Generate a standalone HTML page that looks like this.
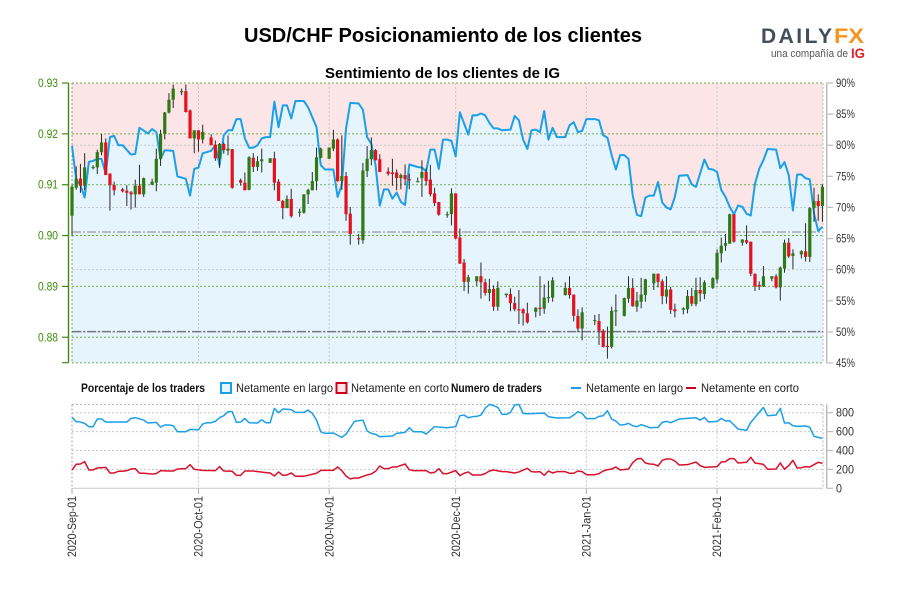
<!DOCTYPE html>
<html lang="es">
<head>
<meta charset="utf-8">
<title>USD/CHF Posicionamiento de los clientes</title>
<style>
html,body{margin:0;padding:0;background:#fff}
svg{display:block}
text{font-family:"Liberation Sans",sans-serif}
</style>
</head>
<body>
<svg id="chart" xmlns="http://www.w3.org/2000/svg" width="900" height="600" viewBox="0 0 900 600">
<rect width="900" height="600" fill="#fff"/>
<text x="244" y="42" font-size="20" font-weight="700" fill="#000" textLength="398" lengthAdjust="spacingAndGlyphs">USD/CHF Posicionamiento de los clientes</text>
<text x="325" y="78" font-size="15" font-weight="700" fill="#000" textLength="235" lengthAdjust="spacingAndGlyphs">Sentimiento de los clientes de IG</text>
<g>
<text x="761" y="43" font-size="21" font-weight="700" fill="#434e5b" textLength="71" lengthAdjust="spacing">DAILY</text>
<text x="834" y="43" font-size="21" font-weight="700" fill="#f7931e" textLength="30" lengthAdjust="spacingAndGlyphs">FX</text>
<text x="771" y="57" font-size="11" fill="#555" textLength="77" lengthAdjust="spacingAndGlyphs">una compañía de</text>
<text x="851" y="58" font-size="14" font-weight="700" fill="#e0202a" textLength="14" lengthAdjust="spacingAndGlyphs">IG</text>
</g>
<g id="top-panel"></g>
<g id="bottom-panel"></g>
<g>
<text x="81" y="392" font-size="12" font-weight="700" fill="#111" textLength="124" lengthAdjust="spacingAndGlyphs">Porcentaje de los traders</text>
<rect x="221" y="383" width="10" height="10" fill="#e6f4fd" stroke="#1b9fe6" stroke-width="2"/>
<text x="236" y="392" font-size="12" fill="#222" textLength="97" lengthAdjust="spacingAndGlyphs">Netamente en largo</text>
<rect x="336.500" y="383" width="10" height="10" fill="#fbe5e6" stroke="#d0021b" stroke-width="2"/>
<text x="351" y="392" font-size="12" fill="#222" textLength="98" lengthAdjust="spacingAndGlyphs">Netamente en corto</text>
<text x="451" y="392" font-size="12" font-weight="700" fill="#111" textLength="91" lengthAdjust="spacingAndGlyphs">Numero de traders</text>
<line x1="571" x2="581" y1="388" y2="388" stroke="#1b9fe6" stroke-width="2"/>
<text x="586" y="392" font-size="12" fill="#222" textLength="97" lengthAdjust="spacingAndGlyphs">Netamente en largo</text>
<line x1="686" x2="696" y1="388" y2="388" stroke="#d0021b" stroke-width="2"/>
<text x="701" y="392" font-size="12" fill="#222" textLength="98" lengthAdjust="spacingAndGlyphs">Netamente en corto</text>
</g>
</svg>
<script>
/* Axis labels and reference values */
const priceTicks = [0.93, 0.92, 0.91, 0.90, 0.89, 0.88];
const percentTicks = [90, 85, 80, 75, 70, 65, 60, 55, 50, 45];
const percentGrid = [80, 70, 60, 50];
const traderTicks = [800, 600, 400, 200, 0];
const dateLabels = ["2020-Sep-01", "2020-Oct-01", "2020-Nov-01", "2020-Dec-01", "2021-Jan-01", "2021-Feb-01"];
const dateLabelDays = [0, 30, 61, 91, 122, 153];
const referencePrices = [9007, 8811];

/* Candles: day offset from 2020-09-01 and prices in 1/10000 */
const candleDays = [0,1,2,3,5,6,7,8,9,10, 12,13,14,15,16,17,19,20,21,22, 23,24,26,27,28,29,30,31,33,34, 35,36,37,38,40,41,42,43,44,45,
 47,48,49,50,51,52,54,55,56,57, 58,59,61,62,63,64,65,66,68,69, 70,71,72,73,75,76,77,78,79,80, 82,83,84,85,86,87,89,90,91,92,
 93,94,96,97,98,99,100,101,103,104, 105,106,107,108,110,111,112,113,114,117, 118,119,120,121,124,125,126,127,128,129, 131,132,133,134,135,136,138,139,140,141,
 142,143,145,146,147,148,149,150,152,153, 154,155,156,157,159,160,161,162,163,164, 166,167,168,169,170,171,173,174,175,176, 177,178];
const candleOpen = [9039,9094,9112,9098,9133,9134,9164,9183,9122,9099, 9091,9088,9085,9081,9098,9081,9100,9104,9151,9200, 9242,9267,9282,9284,9246,9191,9207,9189,9193,9179, 9151,9180,9167,9170,9109,9104,9090,9153,9135,9146,
 9143,9152,9106,9068,9054,9072,9045,9045,9081,9089, 9107,9153,9151,9171,9189,9107,9117,9043,8995,8991, 9127,9150,9168,9150,9126,9124,9124,9113,9119,9111, 9106,9113,9125,9110,9083,9066,9040,9042,9083,8996,
 8947,8909,8910,8920,8908,8887,8895,8860,8883,8885, 8867,8855,8855,8847,8850,8858,8856,8878,8878,8883, 8897,8884,8842,8817,8832,8832,8813,8783,8781,8851, 8842,8876,8897,8860,8870,8883,8906,8925,8910,8880,
 8894,8855,8854,8855,8881,8865,8893,8885,8897,8914, 8965,8980,8984,9042,8986,8991,8988,8925,8903,8900, 8915,8920,8898,8935,8986,8960,8963,8969,8958,9054, 9068,9058];
const candleHigh = [9100,9136,9141,9162,9138,9169,9200,9191,9122,9106, 9094,9099,9088,9110,9139,9114,9112,9171,9208,9243, 9280,9297,9289,9297,9248,9207,9207,9218,9199,9187, 9182,9183,9197,9170,9112,9124,9156,9162,9156,9171,
 9152,9165,9111,9070,9079,9092,9053,9081,9092,9125, 9173,9173,9173,9208,9191,9197,9125,9056,9003,9143, 9176,9193,9170,9160,9134,9151,9130,9122,9140,9122, 9114,9148,9132,9139,9094,9066,9047,9093,9083,9014,
 8954,8923,8920,8947,8915,8915,8902,8910,8886,8896, 8880,8893,8857,8868,8859,8920,8904,8911,8918,8908, 8920,8884,8855,8859,8844,8846,8816,8821,8860,8884, 8878,8920,8916,8889,8917,8915,8925,8925,8914,8920,
 8899,8866,8859,8893,8897,8917,8918,8912,8918,8973, 8996,9003,9043,9042,8993,9020,8988,8925,8910,8940, 8920,8924,8939,8992,8995,8973,8971,9024,9056,9094, 9081,9101];
const candleLow = [9000,9090,9084,9089,9130,9121,9158,9119,9049,9079, 9085,9058,9051,9055,9081,9076,9099,9087,9137,9189, 9240,9251,9276,9242,9191,9162,9165,9181,9177,9147, 9133,9161,9158,9092,9098,9089,9089,9125,9127,9124,
 9143,9089,9068,9032,9054,9035,9037,9043,9062,9089, 9089,9152,9151,9166,9106,9090,9029,8982,8982,8984, 9115,9138,9148,9125,9118,9098,9089,9091,9099,9091, 9106,9076,9098,9077,9058,9039,9035,9020,8993,8944,
 8891,8886,8901,8876,8882,8871,8852,8852,8878,8851, 8851,8826,8823,8827,8839,8842,8846,8868,8870,8882, 8876,8831,8810,8794,8824,8785,8780,8758,8778,8822, 8841,8868,8860,8850,8857,8870,8893,8898,8865,8866,
 8846,8839,8845,8847,8861,8861,8870,8875,8895,8906, 8947,8970,8984,8986,8980,8983,8920,8891,8893,8899, 8910,8896,8872,8927,8956,8934,8955,8949,8948,9027, 9029,9027];
const candleClose = [9096,9112,9098,9134,9135,9164,9183,9119,9099,9089, 9087,9084,9081,9098,9081,9113,9106,9151,9200,9242, 9267,9289,9284,9243,9191,9207,9189,9204,9178,9152, 9180,9168,9171,9094,9104,9089,9154,9135,9146,9150,
 9152,9104,9068,9054,9072,9038,9047,9081,9090,9107, 9154,9171,9173,9189,9107,9117,9042,9003,8993,9128, 9151,9168,9148,9125,9121,9121,9113,9119,9111,9109, 9107,9125,9107,9081,9064,9041,9042,9083,8994,8945,
 8909,8918,8920,8908,8887,8895,8860,8897,8886,8867, 8855,8854,8847,8829,8858,8856,8878,8879,8912,8897, 8883,8842,8817,8849,8834,8813,8781,8781,8852,8853, 8877,8897,8861,8872,8884,8914,8925,8909,8881,8894,
 8854,8851,8857,8881,8866,8893,8886,8908,8916,8966, 8980,8985,9042,8988,8992,8986,8925,8900,8900,8920, 8920,8898,8937,8986,8959,8965,8969,8958,9054,9068, 9058,9096];

/* Percent of traders net long */
const sentimentDays = [0,1,2,3,4,5,6,7,8,9,10,11,12,14,15,16,18,19,20,21,22,24,25,27,28,29,30,31,33,34,35,36,37,38,39,40,41,42,43,44,45,46,47,48,49,50,51,52,53,55,56,58,
 59,60,62,63,64,65,66,68,69,70,71,72,73,74,75,76,77,78,79,80,82,83,84,85,86,87,88,89,90,91,92,94,95,96,97,98,99,100,101,102,104,105,106,107,108,109,110,111,112,113,114,115,117,118,119,120,
 121,122,124,125,126,127,128,129,130,131,132,133,134,135,136,137,138,139,140,141,142,143,144,146,147,148,150,151,152,153,154,155,156,157,158,159,160,161,162,163,164,165,167,168,169,170,171,172,173,174,175,176,177,178];
const sentimentValues = [79.9,74.4,73.6,71.6,77.3,77.5,77.8,77.8,75.4,81.3,81.5,80,80,78.5,78.6,82.8,81.9,82.6,82.1,77.8,79.2,79.1,75,74.6,71.9,76.2,76.4,78.7,79.1,80,76.8,81.6,82.4,82.4,84.2,84.2,81.1,79.6,79.6,80,81.1,81.3,81.3,87,82.9,86.4,86.4,84.3,87.1,87.1,86.1,82.9,
 76.8,76.1,76.1,71.7,73.6,82.7,86.8,86.7,85.7,81.3,80.2,76.8,70.3,72.9,72.9,71.4,72.4,70.9,70.4,76.9,76.5,76.4,75.8,79.3,79.3,76.2,80.9,80.9,80.7,78.2,85.3,81.7,84.8,84.8,85.1,84.8,83.6,82.7,82.7,82.4,82.5,84.7,84,80.9,79.4,82.4,82.5,82.1,85.5,80.9,82.8,81.3,81.3,83.2,83.7,82.1,
 82.3,84.2,84.2,84,81.6,81.2,78.4,76.1,78.4,78.4,77.8,71.9,68.8,68.6,71.6,71.9,71.9,74.1,70.8,70,69.7,71.7,75.1,75.2,73.7,73.3,77.7,76.2,76.1,75.7,72.8,71.7,70.1,68.9,70.3,70.1,69,68.7,73.8,76.2,77.6,79.4,79.3,76.3,77.3,75.2,69.5,75.3,75.3,74.7,74.5,69,66.2,66.9];

/* Number of traders, net long */
const longDays = [0,1,2,3,4,5,6,7,8,13,14,15,17,18,20,21,22,23,24,25,27,28,30,31,32,33,34,35,36,37,38,39,40,41,42,44,45,46,47,48,49,50,52,53,55,56,57,58,59,60,62,64,65,67,69,70,71,72,73,76,77,79,80,81,83,84,86,87,89,
 91,92,93,94,95,96,97,98,99,100,101,102,103,104,105,106,107,108,112,113,114,115,118,119,120,121,122,124,125,126,127,128,129,130,131,132,133,134,135,136,137,139,140,141,142,144,148,149,150,151,153,154,155,156,158,160,161,164,165,167,168,169,170,171,172,174,175,176,177,178];
const longValues = [751,705,701,687,652,652,733,733,701,701,740,747,722,691,698,648,670,670,662,599,599,624,620,680,694,694,708,747,768,811,811,698,701,740,694,691,726,694,694,846,800,839,832,803,803,828,793,722,599,581,585,539,574,708,722,606,581,571,546,553,581,592,641,599,599,574,652,648,641,
 652,768,775,747,758,761,775,846,888,874,856,782,782,803,881,888,793,789,796,758,751,744,747,775,811,793,737,737,761,768,821,733,712,670,673,687,662,652,673,659,641,645,698,708,694,733,747,722,751,701,708,740,712,715,627,613,698,856,768,775,846,691,694,662,655,659,645,550,539,529];

/* Number of traders, net short */
const shortDays = [0,1,2,3,4,5,6,8,9,10,11,12,13,14,15,16,17,19,20,21,23,24,25,27,28,29,31,34,35,36,38,39,40,41,43,46,47,48,49,50,51,52,53,55,58,59,62,63,64,65,66,67,68,70,71,72,73,74,75,76,77,79,80,81,84,85,86,87,88,89,
 91,92,93,94,95,97,98,99,100,102,103,105,106,108,109,110,111,112,113,114,115,117,118,119,120,121,122,124,125,126,127,128,129,130,132,133,134,135,136,137,138,139,140,141,142,143,144,146,148,149,150,153,154,155,156,157,158,160,161,162,164,165,167,168,169,170,171,172,173,174,175,177,178];
const shortValues = [194,254,257,282,194,194,215,222,162,162,180,180,187,204,208,159,159,152,155,187,183,183,204,208,250,201,190,187,229,183,180,137,137,183,183,166,162,130,173,137,141,162,127,127,159,190,190,226,187,130,99,109,109,141,152,180,236,208,208,226,226,257,197,187,187,162,169,208,155,155,
 187,134,159,173,141,141,155,183,194,176,176,162,173,211,176,173,176,137,183,162,176,176,159,159,183,176,144,144,155,183,197,204,226,194,204,271,310,317,268,257,254,236,296,310,310,289,247,250,278,240,222,229,278,282,314,314,268,275,328,268,254,201,204,268,201,240,296,215,218,229,226,275,265];

/* Axis functions */
const xOfDay = d => 72 + 4.216 * d;
const yOfPrice = p => 83 + (9300 - p) * 0.5085;
const yOfTickPrice = p => 83 + (0.93 - p) * 5085;
const yOfPercent = p => 83 + (90 - p) * 6.222;
const yOfTraders = v => 488.3 - v * 0.0945;

const NS = "http://www.w3.org/2000/svg";
const topPanel = document.getElementById("top-panel");
const bottomPanel = document.getElementById("bottom-panel");
function make(parent, tag, attrs, content) {
  const el = document.createElementNS(NS, tag);
  for (const k in attrs) el.setAttribute(k, attrs[k]);
  if (content !== undefined) el.textContent = content;
  parent.appendChild(el);
  return el;
}
function linePath(days, values, yFn) {
  return days.map((d, i) => (i ? "L" : "M") + xOfDay(d).toFixed(2) + " " + yFn(values[i]).toFixed(2)).join("");
}
let el;
const PLOT_L = 72, PLOT_R = 823, PLOT_T = 83, PLOT_B = 362.7;
const GREEN = "#3d8c0c", GRIDGREEN = "#6fae4a", GRIDGREY = "#c4c8cc", AXISGREY = "#bdbdbd";

/* Background zones */
el = make(topPanel, "rect", {x: PLOT_L, y: PLOT_T, width: PLOT_R - PLOT_L, height: PLOT_B - PLOT_T, fill: "#fbe5e6"});


const sentimentLine = linePath(sentimentDays, sentimentValues, yOfPercent);
const lastDay = sentimentDays[sentimentDays.length - 1];
el = make(topPanel, "path", {d: "M" + PLOT_L + " " + PLOT_B + "L" + sentimentLine.slice(1) + "L" + xOfDay(lastDay) + " " + yOfPercent(sentimentValues[sentimentValues.length - 1]) + "L" + PLOT_R + " " + yOfPercent(sentimentValues[sentimentValues.length - 1]) + "L" + PLOT_R + " " + PLOT_B + "Z", fill: "#e6f4fd"});



/* Grey percent grid */
percentGrid.forEach(p => {
  el = make(topPanel, "line", {x1: PLOT_L, x2: PLOT_R, y1: yOfPercent(p), y2: yOfPercent(p), stroke: GRIDGREY, "stroke-width": 1, "stroke-dasharray": "2 2"});
  
  
});
/* Green price grid */
priceTicks.forEach(p => {
  const y = yOfTickPrice(p);
  el = make(topPanel, "line", {x1: PLOT_L, x2: PLOT_R, y1: y, y2: y, stroke: GRIDGREEN, "stroke-width": 1, "stroke-dasharray": "2 2"});
  
  
  el = make(topPanel, "line", {x1: 62, x2: 68.5, y1: y, y2: y, stroke: GREEN, "stroke-width": 1.2});
  
  
  el = make(topPanel, "text", {x: 38, y: y + 4, "font-size": 12, fill: GREEN, textLength: 20, lengthAdjust: "spacingAndGlyphs"}, p.toFixed(2));
  
  
});
el = make(topPanel, "line", {x1: PLOT_L, x2: PLOT_R, y1: PLOT_B, y2: PLOT_B, stroke: GRIDGREEN, "stroke-width": 1, "stroke-dasharray": "2 2"});


el = make(topPanel, "line", {x1: 62, x2: 68.5, y1: PLOT_B, y2: PLOT_B, stroke: GREEN, "stroke-width": 1.2});


el = make(topPanel, "line", {x1: 68.5, x2: 68.5, y1: PLOT_T, y2: PLOT_B, stroke: GREEN, "stroke-width": 1.4});



/* Vertical date grid in both panels */
dateLabelDays.forEach((d, i) => {
  const x = xOfDay(d);
  el = make(topPanel, "line", {x1: x, x2: x, y1: PLOT_T, y2: PLOT_B, stroke: i === 0 ? "#8a8f93" : GRIDGREY, "stroke-width": 1, "stroke-dasharray": "2 2"});
  
  
  el = make(bottomPanel, "line", {x1: x, x2: x, y1: 404.5, y2: 488.3, stroke: i === 0 ? "#9a9ea2" : GRIDGREY, "stroke-width": 1, "stroke-dasharray": "2 2"});
  
  
  el = make(bottomPanel, "line", {x1: x, x2: x, y1: 488.3, y2: 494, stroke: "#aaa", "stroke-width": 1});
  
  
  el = make(bottomPanel, "text", {x: 0, y: 0, transform: "translate(" + (x + 4.2) + " 557) rotate(-90)", "font-size": 12, fill: "#333", textLength: 61, lengthAdjust: "spacingAndGlyphs"}, dateLabels[i]);
  
  
});
el = make(topPanel, "line", {x1: PLOT_R, x2: PLOT_R, y1: PLOT_T, y2: PLOT_B, stroke: "#b5b9bd", "stroke-width": 1, "stroke-dasharray": "2 2"});



/* Reference dash-dot lines */
referencePrices.forEach((p, i) => {
  el = make(topPanel, "line", {x1: PLOT_L, x2: PLOT_R, y1: yOfPrice(p), y2: yOfPrice(p), stroke: i === 0 ? "#a6aaad" : "#74787c", "stroke-width": 1.5, "stroke-dasharray": "9 2 2 2"});
  
  
});

/* Sentiment line */
el = make(topPanel, "path", {d: sentimentLine, fill: "none", stroke: "#1b9fe6", "stroke-width": 2, "stroke-linejoin": "round"});



/* Candles */
candleDays.forEach((d, i) => {
  const x = xOfDay(d);
  const up = candleClose[i] >= candleOpen[i];
  const top = yOfPrice(Math.max(candleOpen[i], candleClose[i]));
  const bot = yOfPrice(Math.min(candleOpen[i], candleClose[i]));
  el = make(topPanel, "line", {x1: x, x2: x, y1: yOfPrice(candleHigh[i]), y2: yOfPrice(candleLow[i]), stroke: "#2a2a2a", "stroke-width": 1});
  
  
  el = make(topPanel, "rect", {x: x - 1.6, y: top, width: 3.2, height: Math.max(bot - top, 1.2), fill: up ? "#2f7a14" : "#e2121f"});
  
  
});

/* Right percent axis */
el = make(topPanel, "line", {x1: 826.7, x2: 826.7, y1: PLOT_T, y2: PLOT_B, stroke: AXISGREY, "stroke-width": 1.5});


percentTicks.forEach(p => {
  const y = yOfPercent(p);
  el = make(topPanel, "line", {x1: 826.7, x2: 833, y1: y, y2: y, stroke: AXISGREY, "stroke-width": 1.2});
  
  
  el = make(topPanel, "text", {x: 836, y: y + 4, "font-size": 12, fill: "#333", textLength: 19, lengthAdjust: "spacingAndGlyphs"}, p + "%");
  
  
});

/* Bottom panel */
el = make(bottomPanel, "line", {x1: PLOT_L, x2: PLOT_R, y1: 404.5, y2: 404.5, stroke: "#b5b9bd", "stroke-width": 1, "stroke-dasharray": "2 2"});


el = make(bottomPanel, "line", {x1: PLOT_R, x2: PLOT_R, y1: 404.5, y2: 488.3, stroke: "#b5b9bd", "stroke-width": 1, "stroke-dasharray": "2 2"});


el = make(bottomPanel, "line", {x1: 826.7, x2: 826.7, y1: 404.5, y2: 488.3, stroke: AXISGREY, "stroke-width": 1.5});


traderTicks.forEach(v => {
  const y = yOfTraders(v);
  el = make(bottomPanel, "line", v === 0 ? {x1: PLOT_L, x2: PLOT_R, y1: y, y2: y, stroke: "#c8c8c8", "stroke-width": 1} : {x1: PLOT_L, x2: PLOT_R, y1: y, y2: y, stroke: GRIDGREY, "stroke-width": 1, "stroke-dasharray": "2 2"});
  
  
  el = make(bottomPanel, "line", {x1: 826.7, x2: 833, y1: y, y2: y, stroke: AXISGREY, "stroke-width": 1.2});
  
  
  el = make(bottomPanel, "text", {x: 836, y: y + 4, "font-size": 12, fill: "#333", textLength: v === 0 ? 6 : 18, lengthAdjust: "spacingAndGlyphs"}, String(v));
  
  
});
el = make(bottomPanel, "path", {d: linePath(longDays, longValues, yOfTraders), fill: "none", stroke: "#1b9fe6", "stroke-width": 1.5, "stroke-linejoin": "round"});


el = make(bottomPanel, "path", {d: linePath(shortDays, shortValues, yOfTraders), fill: "none", stroke: "#d8112b", "stroke-width": 1.5, "stroke-linejoin": "round"});


</script>
</body>
</html>
